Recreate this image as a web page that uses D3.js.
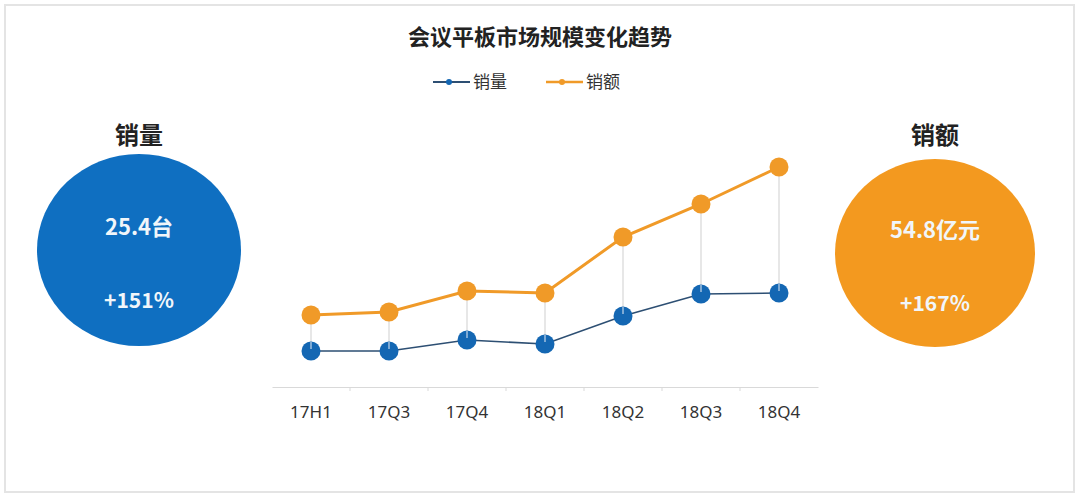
<!DOCTYPE html>
<html><head><meta charset="utf-8">
<script src="https://cdn.jsdelivr.net/npm/d3@7"></script>
<style>
html,body{margin:0;padding:0;background:#fff;}
svg{display:block;font-family:"Noto Sans CJK SC","Microsoft YaHei",sans-serif;}
</style></head>
<body>
<svg id="c" width="1080" height="501"></svg>
<script>
const categories = ["17H1","17Q3","17Q4","18Q1","18Q2","18Q3","18Q4"];
const salesVolume = [36, 36, 47, 43, 71, 93, 94];      // 销量 (index)
const salesAmount = [72, 75, 96, 94, 150, 183, 220];   // 销额 (index)
const seriesNames = ["销量","销额"];
const title = "会议平板市场规模变化趋势";
const volumeTotal = "25.4台", volumeGrowth = "+151%";
const amountTotal = "54.8亿元", amountGrowth = "+167%";

const BLUE = "#1467b3", BLUE_LINE = "#2d4f73", ORANGE = "#f09a28";
const svg = d3.select("#c");

// frame
svg.append("rect").attr("x",5).attr("y",5).attr("width",1069).attr("height",487)
  .attr("fill","none").attr("stroke","#e4e4e4").attr("stroke-width",2);

// title
svg.append("text").attr("x",540).attr("y",45).attr("text-anchor","middle")
  .attr("font-size",22).attr("font-weight","bold").attr("fill","#222").text(title);

// legend
const lg = svg.append("g");
[[433,BLUE_LINE,BLUE,seriesNames[0],1.8],[546,ORANGE,ORANGE,seriesNames[1],2.5]].forEach(([x,lc,mc,name,w])=>{
  lg.append("line").attr("x1",x).attr("x2",x+37).attr("y1",82).attr("y2",82).attr("stroke",lc).attr("stroke-width",w);
  lg.append("circle").attr("cx",x+16).attr("cy",82).attr("r",3).attr("fill",mc);
  lg.append("text").attr("x",x+40).attr("y",88).attr("font-size",17).attr("fill","#333").text(name);
});

// scales
const x = d3.scaleBand().domain(categories).range([272,818]);
const y = d3.scaleLinear().domain([0,220]).range([387,167]);
const cx = d => x(d) + x.bandwidth()/2;

// axis
const ax = svg.append("g").attr("transform","translate(0,387)")
  .call(d3.axisBottom(x).tickSize(0).tickPadding(19));
ax.select(".domain").attr("stroke","#d9d9d9").attr("stroke-width",1.2);
ax.selectAll("text").attr("font-size",17).attr("fill","#333")
  .attr("font-family","'Noto Sans','Open Sans',sans-serif");
// boundary ticks
const bounds = categories.slice(1).map(c=>x(c));
ax.selectAll(".bt").data(bounds).enter().append("line").attr("class","bt")
  .attr("x1",d=>d).attr("x2",d=>d).attr("y1",0).attr("y2",4).attr("stroke","#d9d9d9");

// lines
const lineGen = vals => d3.line().x((d,i)=>cx(categories[i])).y(d=>y(d))(vals);
svg.append("path").attr("d",lineGen(salesAmount)).attr("fill","none").attr("stroke",ORANGE).attr("stroke-width",3);
svg.append("path").attr("d",lineGen(salesVolume)).attr("fill","none").attr("stroke",BLUE_LINE).attr("stroke-width",1.6);

// drop lines
svg.selectAll(".drop").data(categories).enter().append("line")
  .attr("x1",d=>cx(d)).attr("x2",d=>cx(d))
  .attr("y1",(d,i)=>y(salesAmount[i])).attr("y2",(d,i)=>y(salesVolume[i]))
  .attr("stroke","#cfcfcf").attr("stroke-width",1);

// markers
svg.selectAll(".mo").data(salesAmount).enter().append("circle")
  .attr("cx",(d,i)=>cx(categories[i])).attr("cy",d=>y(d)).attr("r",9.5).attr("fill",ORANGE);
svg.selectAll(".mb").data(salesVolume).enter().append("circle")
  .attr("cx",(d,i)=>cx(categories[i])).attr("cy",d=>y(d)).attr("r",9.5).attr("fill",BLUE);
svg.selectAll(".tk").data(salesVolume).enter().append("line")
  .attr("x1",(d,i)=>cx(categories[i])).attr("x2",(d,i)=>cx(categories[i]))
  .attr("y1",d=>y(d)-9).attr("y2",d=>y(d)-2).attr("stroke","#e8eef5").attr("stroke-width",1);

// big circles
function bigCircle(cxv, cyv, rx, ry, color, head, v1, v2){
  svg.append("text").attr("x",cxv).attr("y",144).attr("text-anchor","middle")
    .attr("font-size",24).attr("font-weight","bold").attr("fill","#222").text(head);
  svg.append("ellipse").attr("cx",cxv).attr("cy",cyv).attr("rx",rx).attr("ry",ry).attr("fill",color);
  svg.append("text").attr("x",cxv).attr("y",cyv-15).attr("text-anchor","middle")
    .attr("font-size",22).attr("font-weight","bold").attr("fill","#f1f6fa").text(v1);
  svg.append("text").attr("x",cxv).attr("y",cyv+58).attr("text-anchor","middle")
    .attr("font-size",21).attr("font-weight","bold").attr("fill","#f1f6fa").text(v2);
}
bigCircle(139, 250, 102, 96, "#0f6fc1", seriesNames[0], volumeTotal, volumeGrowth);
bigCircle(935, 253, 100, 94, "#f3991f", seriesNames[1], amountTotal, amountGrowth);
</script>
</body></html>
